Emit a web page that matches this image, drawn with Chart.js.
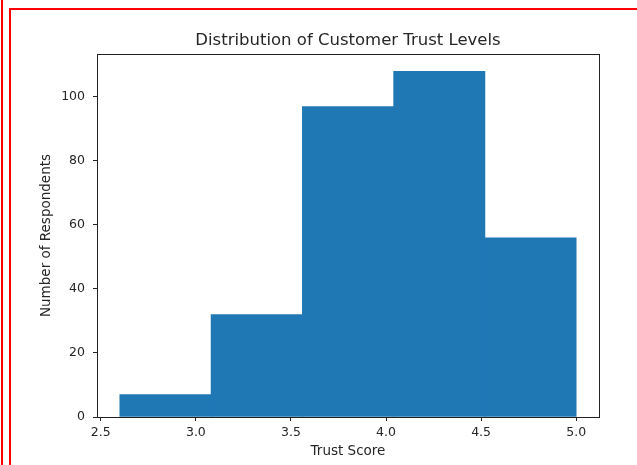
<!DOCTYPE html>
<html>
<head>
<meta charset="utf-8">
<script src="https://cdn.jsdelivr.net/npm/chart.js@4/dist/chart.umd.min.js"></script>
<style>
  html, body { margin: 0; padding: 0; background: #fff; }
  #wrap { position: relative; width: 637px; height: 465px; overflow: hidden; background: #fff; }
  #c { position: absolute; left: 0; top: 0; }
  .frame1 { position: absolute; left: 1px; top: 0; width: 2px; height: 465px; background: #f00; }
  .frame2 { position: absolute; left: 9px; top: 8px; width: 626px; height: 470px;
            border-left: 2px solid #f00; border-top: 2px solid #f00; border-right: 1px solid #f7b0b0; }
</style>
</head>
<body>
<div id="wrap">
  <canvas id="c" width="637" height="465"></canvas>
  <div class="frame1"></div>
  <div class="frame2"></div>
</div>
<script>
// Histogram bin edges (Trust Score) and counts per bin
const binEdges = [2.6, 3.08, 3.56, 4.04, 4.52, 5.0];
const counts = [7, 32, 97, 108, 56];
const xTickValues = [2.5, 3.0, 3.5, 4.0, 4.5, 5.0];
const yTickValues = [0, 20, 40, 60, 80, 100];

const points = counts.map((c, i) => ({ x: (binEdges[i] + binEdges[i + 1]) / 2, y: c }));

const FONT = "'DejaVu Sans', sans-serif";
const TXT = '#262626';

const spines = {
  id: 'spines',
  afterLayout(chart) {
    // centre the title over the plot area, as matplotlib does
    const t = chart.titleBlock;
    if (t) { t.left = chart.chartArea.left; t.right = chart.chartArea.right; }
  },
  afterDraw(chart) {
    const { ctx, chartArea: a } = chart;
    ctx.save();
    ctx.strokeStyle = '#222';
    ctx.lineWidth = 1;
    ctx.strokeRect(Math.round(a.left) + 0.5, Math.round(a.top) + 0.5,
                   Math.round(a.right - a.left), Math.round(a.bottom - a.top));
    ctx.restore();
  }
};

new Chart(document.getElementById('c'), {
  type: 'bar',
  data: {
    datasets: [{
      data: points,
      backgroundColor: '#1f77b4',
      borderWidth: 0,
      barPercentage: 1,
      categoryPercentage: 1,
      grouped: false
    }]
  },
  options: {
    responsive: false,
    animation: false,
    devicePixelRatio: 1,
    layout: { padding: { left: 0, right: 38, top: 0, bottom: 0 } },
    plugins: {
      legend: { display: false },
      tooltip: { enabled: false },
      title: {
        display: true,
        text: 'Distribution of Customer Trust Levels',
        color: TXT,
        font: { family: FONT, size: 16.5, weight: 'normal' },
        padding: { top: 31, bottom: 3.2 }
      }
    },
    scales: {
      x: {
        type: 'linear',
        offset: false,
        min: 2.48,
        max: 5.12,
        afterBuildTicks(s) { s.ticks = xTickValues.map(v => ({ value: v })); },
        afterFit(s) { s.height = 48; },
        grid: { display: true, offset: false, drawOnChartArea: false, drawTicks: true, tickLength: 4, color: '#222' },
        border: { display: true, color: '#222' },
        ticks: {
          color: TXT, font: { family: FONT, size: 12.5 }, padding: 4, maxRotation: 0,
          callback: v => Number(v).toFixed(1)
        },
        title: {
          display: true, text: 'Trust Score', color: TXT,
          font: { family: FONT, size: 13.5 }, padding: { top: 0, bottom: 5 }
        }
      },
      y: {
        min: 0,
        max: 113.4,
        afterBuildTicks(s) { s.ticks = yTickValues.map(v => ({ value: v })); },
        afterFit(s) { s.width = 97; },
        grid: { display: true, offset: false, drawOnChartArea: false, drawTicks: true, tickLength: 4, color: '#222' },
        border: { display: true, color: '#222' },
        ticks: {
          color: TXT, font: { family: FONT, size: 12.5 }, padding: 8,
          callback: v => String(v)
        },
        title: {
          display: true, text: 'Number of Respondents', color: TXT,
          font: { family: FONT, size: 13.5 }, padding: { top: 38, bottom: 0 }
        }
      }
    }
  },
  plugins: [spines]
});
</script>
</body>
</html>
